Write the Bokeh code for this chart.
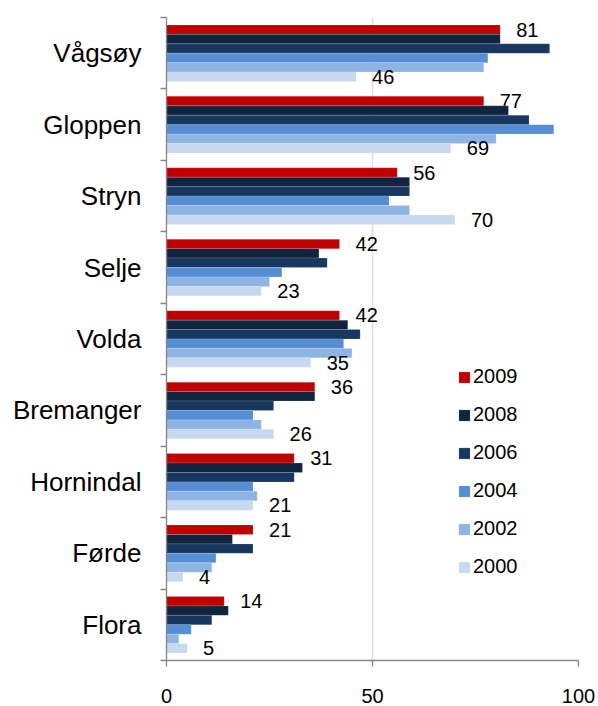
from bokeh.plotting import figure
from bokeh.models import (Range1d, FixedTicker, Legend, LegendItem, ColumnDataSource)
from bokeh.transform import dodge
from bokeh.embed import file_html
from bokeh.resources import INLINE
from bokeh.core.properties import value

# ---- data -------------------------------------------------------------
municipalities = ["Vågsøy", "Gloppen", "Stryn", "Selje", "Volda",
                  "Bremanger", "Hornindal", "Førde", "Flora"]
years = ["2009", "2008", "2006", "2004", "2002", "2000"]
v2009 = [81, 77, 56, 42, 42, 36, 31, 21, 14]
v2008 = [81, 83, 59, 37, 44, 36, 33, 16, 15]
v2006 = [93, 88, 59, 39, 47, 26, 31, 21, 11]
v2004 = [78, 94, 54, 28, 43, 21, 21, 12, 6]
v2002 = [77, 80, 59, 25, 45, 23, 22, 11, 3]
v2000 = [46, 69, 70, 23, 35, 26, 21, 4, 5]
x_ticks = [0, 50, 100]

series = {"2009": v2009, "2008": v2008, "2006": v2006,
          "2004": v2004, "2002": v2002, "2000": v2000}
labelled_years = ["2009", "2000"]

# ---- styles -----------------------------------------------------------
colors = {"2009": "#C00000", "2008": "#10243F", "2006": "#17375E",
          "2004": "#558ED5", "2002": "#8EB4E3", "2000": "#C6D9F1"}
FONT = "Liberation Sans"
AXIS_COL = "#868686"
bar_h = 0.132

n_cat = len(municipalities)
# category slot centres (first municipality at the top)
ypos = [n_cat - i - 0.5 for i in range(n_cat)]

data = {"city": municipalities, "ypos": ypos}
for yr in years:
    data["v" + yr] = series[yr]
    data["t" + yr] = [str(v) for v in series[yr]]
src = ColumnDataSource(data)

p = figure(width=598, height=706,
           y_range=Range1d(0, n_cat),
           x_range=Range1d(x_ticks[0], x_ticks[-1]),
           output_backend="svg", toolbar_location=None,
           min_border_left=166, min_border_right=20,
           min_border_top=17, min_border_bottom=46,
           outline_line_color=None)
p.background_fill_color = "white"

# y axis: labels at slot centres, small ticks at slot boundaries
p.yaxis.ticker = FixedTicker(ticks=ypos, minor_ticks=list(range(n_cat + 1)))
p.yaxis.major_label_overrides = {y: name for y, name in zip(ypos, municipalities)}
p.yaxis.major_tick_line_color = None
p.yaxis.major_tick_out = 0
p.yaxis.major_tick_in = 0
p.yaxis.minor_tick_out = 6
p.yaxis.minor_tick_in = 0
p.yaxis.minor_tick_line_color = AXIS_COL
p.yaxis.minor_tick_line_width = 1.3
p.yaxis.axis_line_color = AXIS_COL
p.yaxis.axis_line_width = 1.3
p.yaxis.major_label_standoff = 19
p.yaxis.major_label_text_font = FONT
p.yaxis.major_label_text_font_size = "26px"
p.yaxis.major_label_text_color = "black"

# x axis
p.xaxis.ticker = FixedTicker(ticks=x_ticks)
p.xaxis.axis_line_color = AXIS_COL
p.xaxis.axis_line_width = 1.3
p.xaxis.major_tick_line_color = AXIS_COL
p.xaxis.major_tick_line_width = 1.3
p.xaxis.major_tick_out = 6
p.xaxis.major_tick_in = 0
p.xaxis.minor_tick_line_color = None
p.xaxis.major_label_standoff = 22
p.xaxis.major_label_text_line_height = 0.8
p.xaxis.major_label_text_font = FONT
p.xaxis.major_label_text_font_size = "20px"
p.xaxis.major_label_text_color = "black"

p.xgrid.ticker = FixedTicker(ticks=x_ticks)
p.xgrid.grid_line_color = "#D5E0EE"
p.xgrid.grid_line_width = 1.5
p.ygrid.visible = False

items = []
n = len(years)
for i, yr in enumerate(years):
    off = ((n - 1) / 2 - i) * bar_h
    r = p.hbar(y=dodge("ypos", off), left=0, right="v" + yr,
               height=bar_h, source=src, fill_color=colors[yr],
               line_color="white", line_alpha=0.25, line_width=0.6)
    items.append(LegendItem(label=yr, renderers=[r]))
    if yr in labelled_years:
        p.text(x="v" + yr, y=dodge("ypos", off), text="t" + yr,
               source=src, x_offset=16, text_align="left", text_baseline="middle",
               text_font=value(FONT), text_font_size=value("20px"), text_color="black")

legend = Legend(items=items, location=(291, 82), orientation="vertical",
                glyph_width=14, glyph_height=14, label_standoff=2,
                spacing=15, padding=0, margin=0, label_height=22,
                border_line_color=None, background_fill_alpha=0,
                label_text_font=FONT, label_text_font_size="20px",
                label_text_color="black")
p.add_layout(legend, "center")

open("out.html", "w").write(file_html(p, INLINE))
